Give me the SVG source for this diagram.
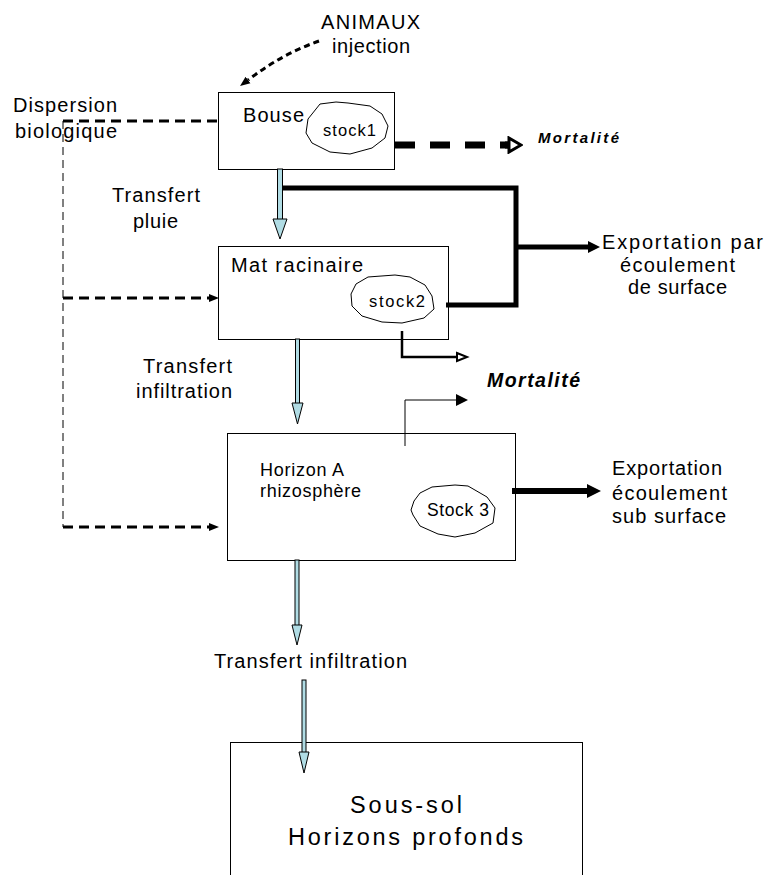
<svg xmlns="http://www.w3.org/2000/svg" width="764" height="875" viewBox="0 0 764 875">
<style>
  text { font-family: "Liberation Sans", Arial, sans-serif; fill: #000; }
  .t { font-size: 20px; }
  .s { font-size: 16.5px; }
  .m { font-weight: bold; font-style: italic; }
  .box { fill: #fff; stroke: #000; stroke-width: 1; }
  .cloud { fill: #fff; stroke: #000; stroke-width: 1; }
  .blue { fill: #b0dce4; stroke: #000; stroke-width: 1; }
  .line { fill: none; stroke: #000; }
</style>
<defs>
  <marker id="ahS" markerUnits="userSpaceOnUse" markerWidth="12" markerHeight="10" refX="0" refY="5" orient="auto">
    <path d="M0,1 L10,5 L0,9 Z" fill="#000"/>
  </marker>
  <marker id="ahM" markerUnits="userSpaceOnUse" markerWidth="14" markerHeight="14" refX="0" refY="7" orient="auto">
    <path d="M0,1 L12,7 L0,13 Z" fill="#000"/>
  </marker>
  <marker id="ahL" markerUnits="userSpaceOnUse" markerWidth="16" markerHeight="16" refX="0" refY="8" orient="auto">
    <path d="M0,1 L14,8 L0,15 Z" fill="#000"/>
  </marker>
  <marker id="ahO" markerUnits="userSpaceOnUse" markerWidth="16" markerHeight="18" refX="2" refY="9" orient="auto">
    <path d="M2,2 L14,9 L2,16 Z" fill="#fff" stroke="#000" stroke-width="3"/>
  </marker>
  <marker id="ahO2" markerUnits="userSpaceOnUse" markerWidth="14" markerHeight="12" refX="1" refY="6" orient="auto">
    <path d="M1,2 L11,6 L1,10 Z" fill="#fff" stroke="#000" stroke-width="2"/>
  </marker>
</defs>

<g id="bouse">
  <rect class="box" x="218.5" y="92.5" width="176" height="77"/>
  <text class="t" x="243" y="122" textLength="61" lengthAdjust="spacing">Bouse</text>
  <g id="stock1">
    <path class="cloud" d="M 320 104 L 336 102 L 348 103 L 370 106 L 382 114 L 388 126 L 385 138 L 372 148 L 350 154 L 330 152 L 312 143 L 306 133 L 308 119 Z"/>
    <text class="s" x="323" y="136" textLength="53" lengthAdjust="spacing">stock1</text>
  </g>
</g>

<g id="mat-racinaire">
  <rect class="box" x="218.5" y="246.5" width="230" height="93"/>
  <text class="t" x="231" y="272" textLength="132" lengthAdjust="spacing">Mat racinaire</text>
  <g id="stock2">
    <path class="cloud" d="M 368 277 L 395 275 L 410 277 L 425 285 L 432 296 L 434 309 L 424 318 L 402 323 L 382 322 L 362 316 L 352 306 L 351 294 L 356 284 Z"/>
    <text class="s" x="369" y="307" textLength="56" lengthAdjust="spacing">stock2</text>
  </g>
</g>

<g id="horizon-a">
  <rect class="box" x="227.5" y="433.5" width="288" height="127"/>
  <text x="260" y="476" font-size="18" textLength="84" lengthAdjust="spacing">Horizon A</text>
  <text x="260" y="497" font-size="18" textLength="101" lengthAdjust="spacing">rhizosphère</text>
  <g id="stock3">
    <path class="cloud" d="M 432 487 L 455 485 L 468 486 L 487 497 L 495 508 L 493 523 L 475 533 L 455 537 L 438 534 L 420 526 L 413 515 L 411 510 L 414 501 L 420 493 Z"/>
    <text x="427" y="516" font-size="17.5" textLength="62" lengthAdjust="spacing">Stock 3</text>
  </g>
</g>

<g id="sous-sol">
  <rect class="box" x="230.5" y="742.5" width="352" height="160"/>
  <text x="350" y="813" font-size="23.5" textLength="112" lengthAdjust="spacing">Sous-sol</text>
  <text x="288" y="845" font-size="23.5" textLength="235" lengthAdjust="spacing">Horizons profonds</text>
</g>

<g id="connectors">
  <!-- ANIMAUX injection -->
  <path class="line" d="M 319 41 Q 282 54 248 80" stroke-width="3" stroke-dasharray="6 4" marker-end="url(#ahS)"/>
  <!-- Dispersion biologique -->
  <path class="line" d="M 63 121 V 527" stroke-width="1" stroke-dasharray="8 5"/>
  <path class="line" d="M 63 121 H 218" stroke-width="3" stroke-dasharray="10 6"/>
  <path class="line" d="M 63 298 H 209" stroke-width="3" stroke-dasharray="10 6" marker-end="url(#ahS)"/>
  <path class="line" d="M 63 527 H 209" stroke-width="3" stroke-dasharray="10 6" marker-end="url(#ahS)"/>
  <!-- Mortalité 1 -->
  <path class="line" d="M 395 145 H 510" stroke-width="7" stroke-dasharray="20 15"/>
  <path class="line" d="M 505 145 H 509" stroke-width="7" marker-end="url(#ahO)"/>
  <!-- Export surface -->
  <path class="line" d="M 283 188 H 516 V 305 H 446" stroke-width="5" stroke-linejoin="miter"/>
  <path class="line" d="M 516 247 H 588" stroke-width="5" marker-end="url(#ahM)"/>
  <!-- Mortalité 2 -->
  <path class="line" d="M 402 331 V 357 H 457" stroke-width="2.5" marker-end="url(#ahO2)"/>
  <!-- Mortalité 3 -->
  <path class="line" d="M 405 446 V 400 H 456" stroke-width="1" marker-end="url(#ahM)"/>
  <!-- Export sub surface -->
  <path class="line" d="M 512 491 H 587" stroke-width="6" marker-end="url(#ahL)"/>
  <!-- Blue transfer arrows -->
  <g id="transfer-pluie">
    <rect class="blue" x="277.5" y="169" width="5" height="51"/>
    <path class="blue" d="M 273 219 H 287 L 280 239 Z"/>
  </g>
  <g id="transfer-infiltration-1">
    <rect class="blue" x="295.5" y="339" width="4" height="65"/>
    <path class="blue" d="M 292 403 H 303 L 297.5 424 Z"/>
  </g>
  <g id="transfer-infiltration-2">
    <rect class="blue" x="295" y="560" width="4" height="66"/>
    <path class="blue" d="M 292 625 H 302 L 297 645 Z"/>
  </g>
  <g id="transfer-infiltration-3">
    <rect class="blue" x="302" y="680" width="4" height="73"/>
    <path class="blue" d="M 299 752 H 309 L 304 773 Z"/>
  </g>
</g>

<g id="labels">
  <text class="t" x="321" y="29" textLength="99" lengthAdjust="spacing">ANIMAUX</text>
  <text class="t" x="332" y="53" textLength="78" lengthAdjust="spacing">injection</text>
  <text class="t" x="13" y="112" textLength="104" lengthAdjust="spacing">Dispersion</text>
  <text class="t" x="15" y="138" textLength="102" lengthAdjust="spacing">biologique</text>
  <text class="m" x="538" y="143" font-size="15" textLength="81" lengthAdjust="spacing">Mortalité</text>
  <text class="t" x="112" y="202" textLength="88" lengthAdjust="spacing">Transfert</text>
  <text class="t" x="133" y="228" textLength="45" lengthAdjust="spacing">pluie</text>
  <text class="t" x="602" y="249" textLength="161" lengthAdjust="spacing">Exportation par</text>
  <text class="t" x="620" y="272" textLength="115" lengthAdjust="spacing">écoulement</text>
  <text class="t" x="628" y="294" textLength="99" lengthAdjust="spacing">de surface</text>
  <text class="t" x="143" y="373" textLength="89" lengthAdjust="spacing">Transfert</text>
  <text class="t" x="136" y="398" textLength="96" lengthAdjust="spacing">infiltration</text>
  <text class="m" x="487" y="387" font-size="19.5" textLength="93" lengthAdjust="spacing">Mortalité</text>
  <text class="t" x="612" y="475" textLength="110" lengthAdjust="spacing">Exportation</text>
  <text class="t" x="612" y="500" textLength="115" lengthAdjust="spacing">écoulement</text>
  <text class="t" x="612" y="523" textLength="114" lengthAdjust="spacing">sub surface</text>
  <text class="t" x="214" y="668" textLength="193" lengthAdjust="spacing">Transfert infiltration</text>
</g>
</svg>
